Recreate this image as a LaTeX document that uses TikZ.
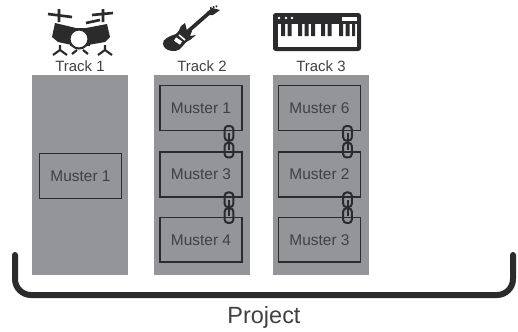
\documentclass[tikz,border=0pt]{standalone}
\usepackage{fontspec}
\setmainfont{Liberation Sans}
\usepackage{tikz}
\usetikzlibrary{positioning,calc}

\definecolor{trackgray}{HTML}{939598}
\definecolor{inkdark}{HTML}{2B2B2D}
\definecolor{textdark}{HTML}{414042}
\tikzset{
    track/.style={fill=trackgray, minimum width=72pt, minimum height=150pt, inner sep=0pt, outer sep=0pt},
    muster/.style={draw=inkdark, line width=1.2pt, minimum width=61.5pt, minimum height=33.5pt, inner sep=0pt, outer sep=0pt, text=textdark, font=\fontsize{11.6}{13}\selectfont},
    tracklabel/.style={text=textdark, inner sep=0pt, font=\fontsize{11.2}{13}\selectfont},
    chainlink/.style={draw=inkdark, line width=1.5pt, rounded corners=2.5pt, minimum width=6.5pt, minimum height=11pt, inner sep=0pt},
    icon/.style={fill=inkdark, draw=none}
}

\begin{document}
\begin{tikzpicture}[x=0.75pt, y=-0.75pt]
    \useasboundingbox (0,0) rectangle (518,332);

    \node (T1) [track] at (80,175) {};
    \node (T2) [track, right=19.5pt of T1] {};
    \node (T3) [track, right=17.25pt of T2] {};

    \node (L1) [tracklabel, above=2.5pt of T1] {Track 1};
    \node (L2) [tracklabel, above=2.5pt of T2] {Track 2};
    \node (L3) [tracklabel, above=2.5pt of T3] {Track 3};

    \node (M11) [muster] at (80.5,176) {Muster 1};

    \node (M21) [muster] at (201,108) {Muster 1};
    \node (M22) [muster, below=16.35pt of M21] {Muster 3};
    \node (M23) [muster, below=15.6pt of M22] {Muster 4};

    \node (M31) [muster] at (319.5,108) {Muster 6};
    \node (M32) [muster, below=16.35pt of M31] {Muster 2};
    \node (M33) [muster, below=15.6pt of M32] {Muster 3};

    % chains between the patterns
    \node (C1a) [chainlink] at ($(M21.south east)+(-13,3)$) {};
    \node (C1b) [chainlink] at ($(M22.north east)+(-13,-2)$) {};
    \node (C2a) [chainlink] at ($(M22.south east)+(-13,3)$) {};
    \node (C2b) [chainlink] at ($(M23.north east)+(-13,-2)$) {};
    \node (C3a) [chainlink] at ($(M31.south east)+(-13,3)$) {};
    \node (C3b) [chainlink] at ($(M32.north east)+(-13,-2)$) {};
    \node (C4a) [chainlink] at ($(M32.south east)+(-13,3)$) {};
    \node (C4b) [chainlink] at ($(M33.north east)+(-13,-2)$) {};
    \draw [inkdark, line width=1.5pt]
        (C1a.center) -- (C1b.center)
        (C2a.center) -- (C2b.center)
        (C3a.center) -- (C3b.center)
        (C4a.center) -- (C4b.center);

    % drums
    \draw [inkdark, line width=2pt]
        (48,14) -- (72,17) (59,9) -- (59,22)
        (92,15) -- (113,13) (103,9) -- (103,22)
        (86,23) -- (100,20);
    \fill [icon] (55,23) -- (76,28) -- (72,45) -- (58,42) -- (52,37) -- cycle;
    \fill [icon] (86,28) -- (107,24) -- (110,37) -- (105,42) -- (88,45) -- cycle;
    \fill [icon] (70,28) -- (90,28) -- (90,46) -- (70,46) -- cycle;
    \draw [inkdark, fill=white, line width=1.6pt] (79,39) circle (9.5);
    \draw [inkdark, line width=1.6pt]
        (60,45) -- (60,50) (53,55) -- (60,50) -- (67,55)
        (105,45) -- (105,50) (98,55) -- (105,50) -- (112,55)
        (72,54) -- (77,50) (83,50) -- (88,54);

    % guitar
    \fill [icon] (185,23) -- (181,26) .. controls (179,30) and (179,32) .. (176,34)
        .. controls (170,36) and (162,39) .. (163,44)
        .. controls (164,51) and (175,53) .. (180,49)
        .. controls (184,45) and (186,41) .. (190,40)
        -- (196,35) -- (190,36) -- (192,31) -- (187,31) -- cycle;
    \draw [inkdark, line width=2.8pt] (185,34) -- (209,13);
    \fill [icon] (207,12) -- (212,8) -- (220,10) -- (213,15) -- (209,15) -- cycle;
    \draw [inkdark, line width=1.4pt, dash pattern=on 1.2pt off 1pt] (210,8) -- (218,6);
    \draw [white, line width=3pt] (175,39) -- (181,43);
    \draw [white, line width=1.2pt] (179,35) -- (185,40);

    % keyboard
    \fill [icon, rounded corners=2pt] (273,13) rectangle (361,51);
    \fill [white] (278,24) rectangle (357,47);
    \fill [white] (342,17) rectangle (357,21);
    \fill [white] (279,18) circle (1.3) (286,18) circle (1.3) (292,18) circle (1.3);
    \fill [icon]
        (281,24) rectangle (285,36) (287.5,24) rectangle (291.5,36)
        (298,24) rectangle (302,36) (304.5,24) rectangle (308.5,36) (311,24) rectangle (315,36)
        (321,24) rectangle (325,36) (327.5,24) rectangle (331.5,36)
        (339,24) rectangle (343,36) (345.5,24) rectangle (349.5,36) (352,24) rectangle (355,36);

    % project bracket
    \coordinate (B1) at (15,255);
    \coordinate (B2) at (513,255);
    \coordinate (B3) at (15,295);
    \coordinate (B4) at (513,295);
    \draw [inkdark, line width=4.5pt, line cap=round, rounded corners=12pt]
        (B1) -- (B3) -- (B4) -- (B2);
    \node (P) [text=textdark, inner sep=0pt, font=\fontsize{17.6}{20}\selectfont] at (264,317) {Project};
\end{tikzpicture}
\end{document}
